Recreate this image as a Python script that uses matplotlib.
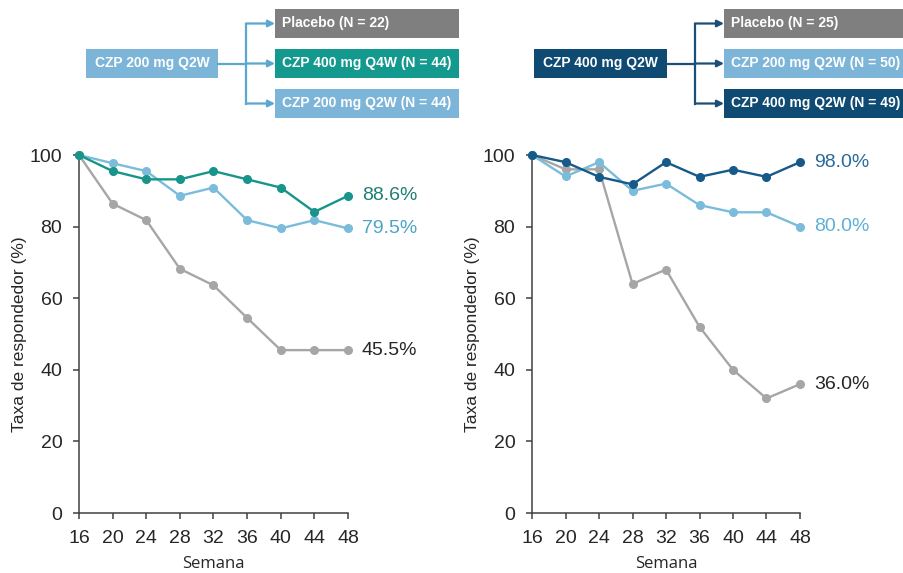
import numpy as np
import matplotlib
matplotlib.use("Agg")
import matplotlib.pyplot as plt
from matplotlib.patches import Rectangle

# ---- data ----
weeks = [16, 20, 24, 28, 32, 36, 40, 44, 48]

# left panel: CZP 200 mg Q2W run-in
left_placebo = [100, 86.4, 81.8, 68.2, 63.6, 54.5, 45.5, 45.5, 45.5]
left_400q4w = [100, 95.5, 93.2, 93.2, 95.5, 93.2, 90.9, 84.1, 88.6]
left_200q2w = [100, 97.7, 95.5, 88.6, 90.9, 81.8, 79.5, 81.8, 79.5]

# right panel: CZP 400 mg Q2W run-in
right_placebo = [100, 96.0, 96.0, 64.0, 68.0, 52.0, 40.0, 32.0, 36.0]
right_200q2w = [100, 94.0, 98.0, 90.0, 92.0, 86.0, 84.0, 84.0, 80.0]
right_400q2w = [100, 98.0, 93.9, 91.8, 98.0, 93.9, 95.9, 93.9, 98.0]

yticks = [0, 20, 40, 60, 80, 100]

left_source = "CZP 200 mg Q2W"
left_arms = ["Placebo (N = 22)", "CZP 400 mg Q4W (N = 44)", "CZP 200 mg Q2W (N = 44)"]
right_source = "CZP 400 mg Q2W"
right_arms = ["Placebo (N = 25)", "CZP 200 mg Q2W (N = 50)", "CZP 400 mg Q2W (N = 49)"]

# ---- colours ----
GRAY_LINE = "#a6a6a6"
TEAL = "#17958a"
LBLUE = "#7bbcdb"
DBLUE = "#165a8a"
GRAY_BOX = "#7f7f7f"
LBLUE_BOX = "#7cb5d8"
TEAL_BOX = "#13998e"
DBLUE_BOX = "#0f4a72"

W, H = 904, 573
fig = plt.figure(figsize=(W / 100, H / 100), dpi=100)

tick_font = ["Liberation Sans Narrow", "Liberation Sans", "DejaVu Sans"]


def make_axes(left_px, width_px):
    ax = fig.add_axes([left_px / W, 1 - 513 / H, width_px / W, 358 / H])
    ax.set_xlim(16, 48)
    ax.set_ylim(0, 100)
    ax.set_xticks(weeks)
    ax.set_yticks(yticks)
    for s in ["top", "right"]:
        ax.spines[s].set_visible(False)
    for s in ["left", "bottom"]:
        ax.spines[s].set_color("#404040")
        ax.spines[s].set_linewidth(1.1)
    ax.tick_params(direction="out", length=4, width=1.1, color="#404040",
                   labelcolor="#262626", labelsize=14)
    ax.tick_params(axis="y", pad=8)
    ax.tick_params(axis="x", pad=8)
    for lab in ax.get_xticklabels() + ax.get_yticklabels():
        lab.set_family(tick_font)
    ax.set_xlabel("Semana", family=["Open Sans", "DejaVu Sans"], fontsize=12,
                  color="#262626", labelpad=6.5)
    ax.set_ylabel("Taxa de respondedor (%)", family=["Liberation Sans", "DejaVu Sans"],
                  fontsize=12.5, color="#262626", labelpad=2)
    return ax


def draw_series(ax, y, color, zorder, label_color):
    ax.plot(weeks, y, color=color, lw=1.7, marker="o", ms=5.5, clip_on=False,
            zorder=zorder)
    ax.annotate(f"{y[-1]:.1f}%", (weeks[-1], y[-1]), xytext=(10, 0),
                textcoords="offset points", va="center", ha="left",
                fontsize=14, color=label_color,
                family=["Liberation Sans", "DejaVu Sans"])


ax1 = make_axes(79, 269)
draw_series(ax1, left_placebo, GRAY_LINE, 2, "#262626")
draw_series(ax1, left_200q2w, LBLUE, 3, "#4aa6c9")
draw_series(ax1, left_400q4w, TEAL, 4, "#1d7f72")

ax2 = make_axes(532, 268)
draw_series(ax2, right_placebo, GRAY_LINE, 2, "#262626")
draw_series(ax2, right_200q2w, LBLUE, 3, "#5fb0d3")
draw_series(ax2, right_400q2w, DBLUE, 4, "#2a6a99")

# ---- flow diagrams (pixel overlay) ----
ov = fig.add_axes([0, 0, 1, 1])
ov.set_xlim(0, W)
ov.set_ylim(H, 0)
ov.axis("off")


def box(x0, y0, x1, y1, color, text, center):
    ov.add_patch(Rectangle((x0, y0), x1 - x0, y1 - y0, facecolor=color,
                           edgecolor="none"))
    if center:
        ov.text((x0 + x1) / 2, (y0 + y1) / 2, text, ha="center", va="center",
                color="white", fontsize=10, fontweight="bold",
                family=["Liberation Sans", "DejaVu Sans"])
    else:
        ov.text(x0 + 7, (y0 + y1) / 2, text, ha="left", va="center",
                color="white", fontsize=10, fontweight="bold",
                family=["Liberation Sans", "DejaVu Sans"])


def arrow(x0, y0, x1, y1, color):
    ov.annotate("", xy=(x1, y1), xytext=(x0, y0),
                arrowprops=dict(arrowstyle="-|>", color=color, lw=1.6,
                                mutation_scale=10, shrinkA=0, shrinkB=0))


def flow(src_x0, src_x1, vx, tgt_x0, tgt_x1, src_color, line_color,
         src_text, arm_texts, arm_colors):
    rows = [(9, 38), (49, 78), (89, 118)]
    box(src_x0, 49, src_x1, 78, src_color, src_text, True)
    for (y0, y1), t, c in zip(rows, arm_texts, arm_colors):
        box(tgt_x0, y0, tgt_x1, y1, c, t, False)
    ov.plot([src_x1, vx], [63.5, 63.5], color=line_color, lw=1.6)
    ov.plot([vx, vx], [23.5, 103.5], color=line_color, lw=1.6)
    for (y0, y1) in rows:
        arrow(vx, (y0 + y1) / 2, tgt_x0, (y0 + y1) / 2, line_color)


flow(86, 218, 246, 275, 459, LBLUE_BOX, "#5aa7d0", left_source, left_arms,
     [GRAY_BOX, TEAL_BOX, LBLUE_BOX])
flow(534, 667, 695, 724, 904, DBLUE_BOX, "#1b4f78", right_source, right_arms,
     [GRAY_BOX, LBLUE_BOX, DBLUE_BOX])

fig.savefig("out.png", dpi=100)
